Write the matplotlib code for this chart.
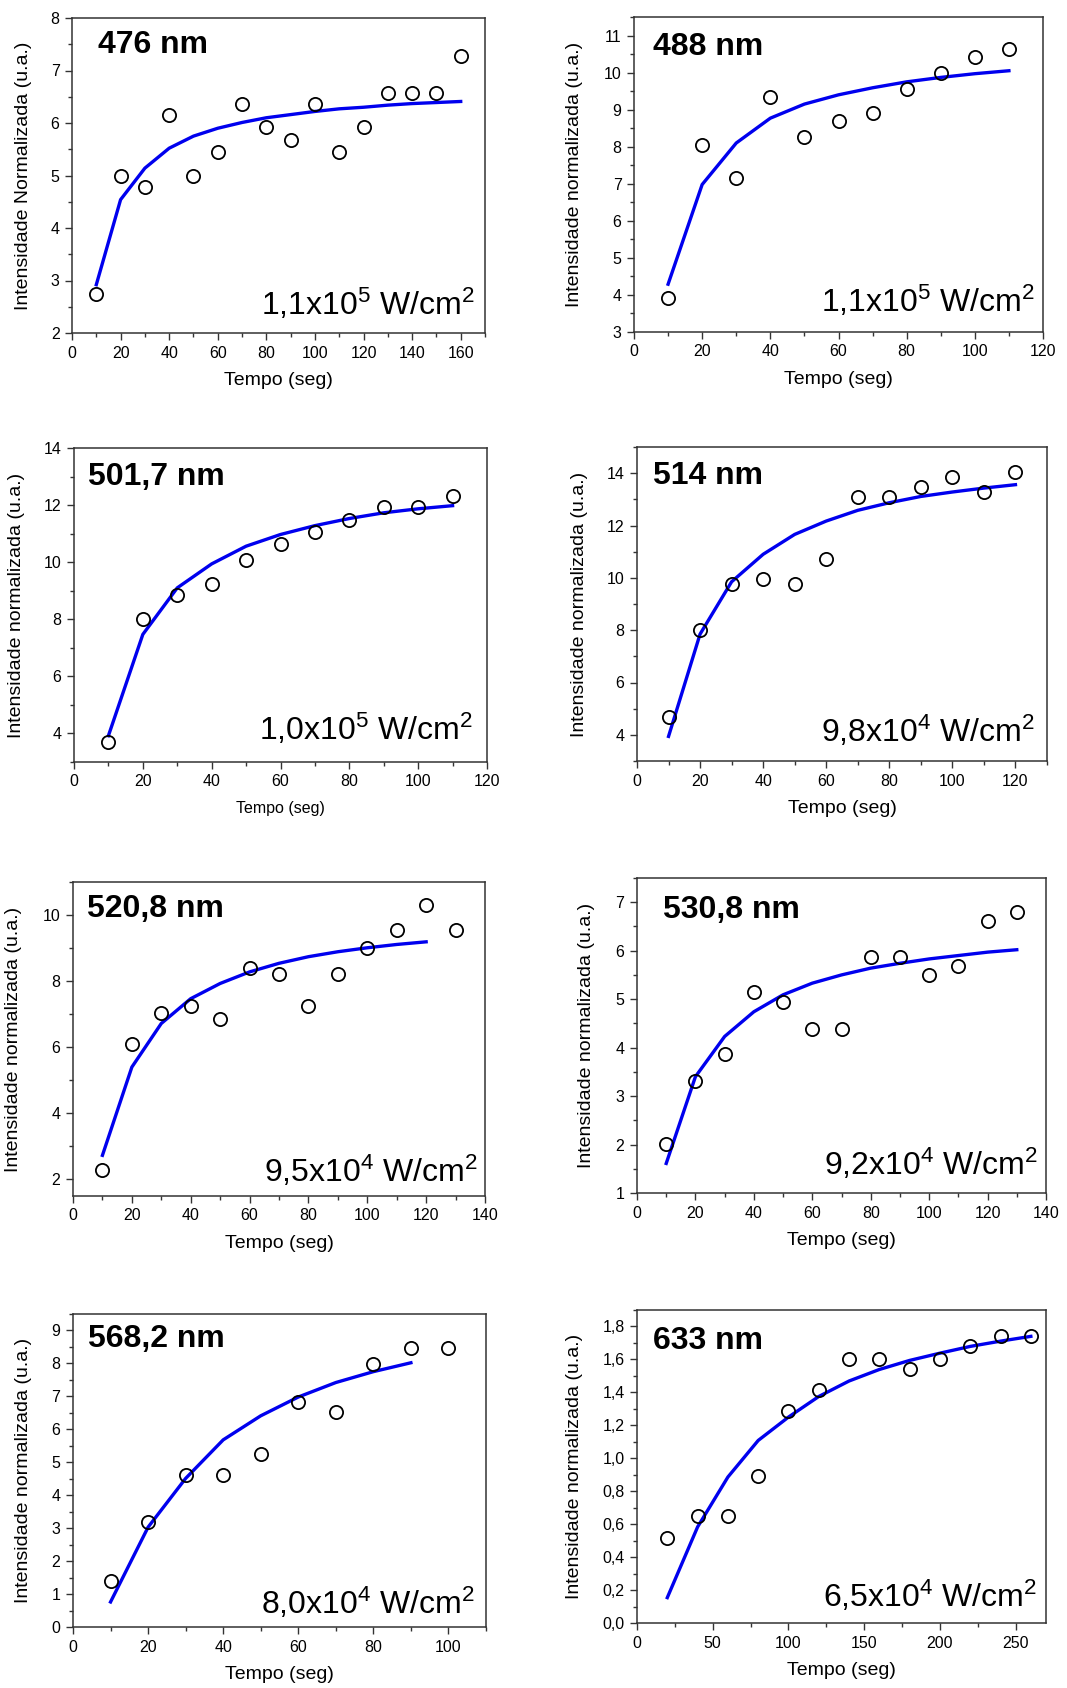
import matplotlib
matplotlib.use("Agg")
import matplotlib.pyplot as plt
from matplotlib.ticker import MultipleLocator, FuncFormatter

plt.rcParams['font.family'] = ['Liberation Sans', 'DejaVu Sans']
plt.rcParams['mathtext.fontset'] = 'custom'
plt.rcParams['mathtext.rm'] = 'Liberation Sans'
plt.rcParams['mathtext.it'] = 'Liberation Sans:italic'
plt.rcParams['mathtext.bf'] = 'Liberation Sans:bold'

# ---------------- data ----------------
titles = ["476 nm", "488 nm", "501,7 nm", "514 nm", "520,8 nm", "530,8 nm", "568,2 nm", "633 nm"]
irradiances = [r"1,1x10$^5$ W/cm$^2$", r"1,1x10$^5$ W/cm$^2$", r"1,0x10$^5$ W/cm$^2$",
               r"9,8x10$^4$ W/cm$^2$", r"9,5x10$^4$ W/cm$^2$", r"9,2x10$^4$ W/cm$^2$",
               r"8,0x10$^4$ W/cm$^2$", r"6,5x10$^4$ W/cm$^2$"]
ylabels = ["Intensidade Normalizada (u.a.)"] + ["Intensidade normalizada (u.a.)"] * 7

t_476 = [10, 20, 30, 40, 50, 60, 70, 80, 90, 100, 110, 120, 130, 140, 150, 160]
y_476 = [2.75, 5.0, 4.78, 6.15, 5.0, 5.45, 6.37, 5.92, 5.68, 6.37, 5.45, 5.92, 6.58, 6.58, 6.58, 7.28]
fit_476 = [2.92, 4.54, 5.14, 5.52, 5.75, 5.90, 6.01, 6.10, 6.16, 6.22, 6.27, 6.30, 6.34, 6.37, 6.39, 6.41]

t_488 = [10, 20, 30, 40, 50, 60, 70, 80, 90, 100, 110]
y_488 = [3.93, 8.04, 7.16, 9.35, 8.26, 8.69, 8.90, 9.56, 10.0, 10.43, 10.65]
fit_488 = [4.29, 6.98, 8.10, 8.77, 9.15, 9.40, 9.59, 9.75, 9.87, 9.97, 10.05]

t_501 = [10, 20, 30, 40, 50, 60, 70, 80, 90, 100, 110]
y_501 = [3.69, 8.02, 8.85, 9.24, 10.06, 10.65, 11.06, 11.49, 11.93, 11.93, 12.33]
fit_501 = [3.92, 7.47, 9.10, 9.94, 10.56, 10.97, 11.28, 11.53, 11.73, 11.87, 11.98]

t_514 = [10, 20, 30, 40, 50, 60, 70, 80, 90, 100, 110, 120]
y_514 = [4.67, 8.0, 9.76, 9.95, 9.76, 10.71, 13.09, 13.09, 13.49, 13.87, 13.28, 14.06]
fit_514 = [3.94, 7.85, 9.85, 10.90, 11.66, 12.17, 12.58, 12.87, 13.11, 13.28, 13.43, 13.56]

t_520 = [10, 20, 30, 40, 50, 60, 70, 80, 90, 100, 110, 120, 130]
y_520 = [2.29, 6.11, 7.04, 7.24, 6.85, 8.41, 8.21, 7.24, 8.21, 8.99, 9.55, 10.3, 9.55]
tf_520 = [10, 20, 30, 40, 50, 60, 70, 80, 90, 100, 110, 120]
fit_520 = [2.73, 5.40, 6.72, 7.47, 7.93, 8.28, 8.54, 8.74, 8.89, 9.01, 9.11, 9.19]

t_530 = [10, 20, 30, 40, 50, 60, 70, 80, 90, 100, 110, 120, 130]
y_530 = [2.02, 3.31, 3.86, 5.14, 4.95, 4.39, 4.39, 5.88, 5.88, 5.50, 5.69, 6.61, 6.80]
fit_530 = [1.61, 3.40, 4.23, 4.74, 5.09, 5.33, 5.50, 5.64, 5.74, 5.83, 5.90, 5.97, 6.02]

t_568 = [10, 20, 30, 40, 50, 60, 70, 80, 90, 100]
y_568 = [1.41, 3.20, 4.62, 4.62, 5.26, 6.83, 6.53, 7.99, 8.48, 8.48]
tf_568 = [10, 20, 30, 40, 50, 60, 70, 80, 90]
fit_568 = [0.76, 3.03, 4.51, 5.68, 6.41, 6.98, 7.42, 7.75, 8.02]

t_633 = [20, 40, 60, 80, 100, 120, 140, 160, 180, 200, 220, 240, 260]
y_633 = [0.516, 0.647, 0.647, 0.892, 1.287, 1.412, 1.604, 1.604, 1.543, 1.604, 1.679, 1.741, 1.741]
fit_633 = [0.154, 0.583, 0.886, 1.108, 1.25, 1.375, 1.469, 1.539, 1.594, 1.638, 1.679, 1.711, 1.74]

series = [
    (t_476, y_476, t_476, fit_476),
    (t_488, y_488, t_488, fit_488),
    (t_501, y_501, t_501, fit_501),
    (t_514, y_514, t_514, fit_514),
    (t_520, y_520, tf_520, fit_520),
    (t_530, y_530, t_530, fit_530),
    (t_568, y_568, tf_568, fit_568),
    (t_633, y_633, t_633, fit_633),
]

# ---------------- layout (pixels: left, top, right, bottom) ----------------
W, H = 1067, 1688
boxes = [(72, 18, 485, 333), (634, 17, 1043, 332),
         (74, 448, 487, 762), (637, 447, 1047, 761),
         (73, 882, 485, 1196), (637, 878, 1046, 1193),
         (73, 1314, 486, 1627), (637, 1310, 1046, 1623)]
xlims = [(0, 170), (0, 120), (0, 120), (0, 130), (0, 140), (0, 140), (0, 110), (0, 270)]
ylims = [(2, 8), (3, 11.5), (3, 14), (3, 15), (1.5, 11), (1, 7.5), (0, 9.5), (0, 1.9)]
xmaj = [20, 20, 20, 20, 20, 20, 20, 50]
ymaj = [1, 1, 2, 2, 2, 1, 1, 0.2]
ylab_x = [-0.097, -0.125, -0.119, -0.12, -0.124, -0.103, -0.099, -0.132]
title_pos = [(0.063, 0.889), (0.046, 0.879), (0.034, 0.883), (0.039, 0.883),
             (0.034, 0.889), (0.064, 0.873), (0.036, 0.895), (0.039, 0.876)]
irr_pos = [(0.976, 0.057), (0.98, 0.063), (0.966, 0.07), (0.971, 0.06),
           (0.983, 0.044), (0.98, 0.057), (0.973, 0.041), (0.978, 0.05)]
xlab_size = [14, 14, 11.5, 14, 14, 14, 14, 14]

fig = plt.figure(figsize=(W / 100, H / 100), dpi=100)

comma_int = FuncFormatter(lambda v, p: f"{v:g}".replace('.', ','))
comma_1 = FuncFormatter(lambda v, p: f"{v:.1f}".replace('.', ','))

for i in range(8):
    l, t, r, b = boxes[i]
    ax = fig.add_axes([l / W, 1 - b / H, (r - l) / W, (b - t) / H])
    tx, ty, fx, fy = series[i]
    ax.plot(fx, fy, color='#0000ee', lw=2.4, zorder=2)
    ax.plot(tx, ty, linestyle='none', marker='o', ms=9.5, mfc='none', mec='black', mew=1.3, zorder=3)
    ax.set_xlim(*xlims[i])
    ax.set_ylim(*ylims[i])
    ax.xaxis.set_major_locator(MultipleLocator(xmaj[i]))
    ax.xaxis.set_minor_locator(MultipleLocator(xmaj[i] / 2))
    ax.yaxis.set_major_locator(MultipleLocator(ymaj[i]))
    ax.yaxis.set_minor_locator(MultipleLocator(ymaj[i] / 2))
    if i == 7:
        ax.yaxis.set_major_formatter(comma_1)
    else:
        ax.yaxis.set_major_formatter(comma_int)
    ax.tick_params(which='major', direction='out', length=5, width=1, labelsize=11.5, color='#333333', pad=4)
    ax.tick_params(which='minor', direction='out', length=3, width=1, color='#333333')
    for s in ax.spines.values():
        s.set_color('#333333')
        s.set_linewidth(1.1)
    ax.set_xlabel("Tempo (seg)", fontsize=xlab_size[i])
    ax.xaxis.set_label_coords(0.5, -39 / (b - t))
    ax.set_ylabel(ylabels[i], fontsize=14)
    ax.yaxis.set_label_coords(ylab_x[i], 0.5)
    ax.text(title_pos[i][0], title_pos[i][1], titles[i], transform=ax.transAxes,
            fontsize=23, fontweight='bold', ha='left', va='baseline')
    ax.text(irr_pos[i][0], irr_pos[i][1], irradiances[i], transform=ax.transAxes,
            fontsize=23, ha='right', va='baseline')

fig.savefig("out.png", dpi=100)
